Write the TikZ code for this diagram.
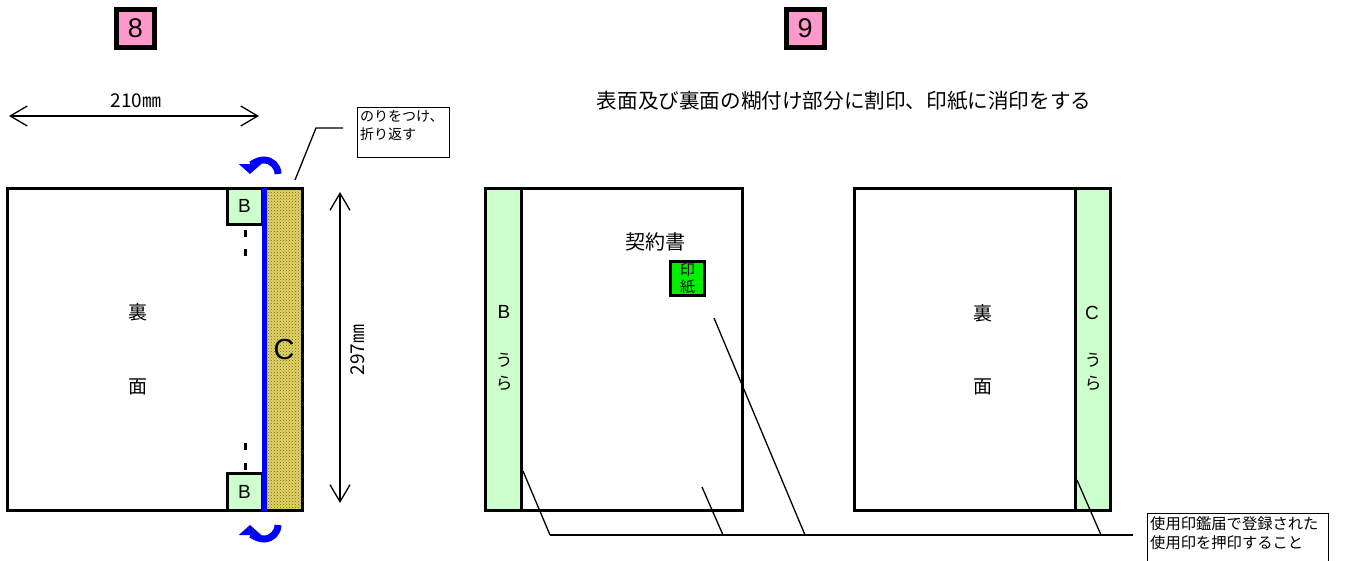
\documentclass[tikz,border=0pt]{standalone}
\usepackage{fontspec}
\setmainfont{Liberation Sans}
\newfontfamily\jp{Noto Sans CJK JP}
\usetikzlibrary{arrows.meta,patterns}
\definecolor{pinkbox}{RGB}{255,153,204}
\definecolor{lightgreen}{RGB}{204,255,204}
\definecolor{stampgreen}{RGB}{0,240,0}
\definecolor{glue}{RGB}{225,212,100}
\definecolor{gluedots}{RGB}{110,100,30}
\tikzset{
	numbox/.style={draw=black,line width=5,fill=pinkbox,minimum size=38,inner sep=0,font=\fontsize{27}{28}\selectfont},
	sheet/.style={draw=black,line width=3},
	tab/.style={draw=black,line width=3,fill=lightgreen},
	dim/.style={line width=1.3,{Straight Barb[length=17,width=20]}-{Straight Barb[length=17,width=20]}},
	leader/.style={line width=1.3},
	jtext/.style={font=\jp\fontsize{19}{22}\selectfont,inner sep=0},
	ltext/.style={font=\fontsize{19}{22}\selectfont,inner sep=0},
	uratext/.style={font=\jp\fontsize{17}{23}\selectfont,inner sep=0,align=center},
	fold/.style={blue,line width=7,-{Triangle[length=10,width=22]}}
}
\begin{document}
\begin{tikzpicture}[x=1pt,y=-1pt]
\useasboundingbox (0,0) rectangle (1350,560);
% step numbers
\node[numbox] (n8) at (135.5,28) {8};
\node[numbox] (n9) at (805,28) {9};
% left sheet, back side
\fill[glue] (265,188) rectangle (302,510);
\fill[pattern=crosshatch dots,pattern color=gluedots] (265,188) rectangle (302,510);
\draw[sheet] (7,188) rectangle (302,510);
\draw[tab] (227,188) rectangle (262,224);
\draw[tab] (227,473) rectangle (262,510);
\node[ltext] (b1) at (244.5,206) {B};
\node[ltext] (b2) at (244.5,492) {B};
\foreach \y in {230,249,443,463}
{
	\fill[black] (244,\y) rectangle (247,{\y+7});
}
\draw[blue,line width=5] (264.5,188) -- (264.5,511);
\node[font=\fontsize{29}{30}\selectfont,inner sep=0] (c1) at (284,350) {C};
\node[jtext] (ura1) at (138,312) {裏};
\node[jtext] (men1) at (138,387) {面};
\draw[fold] (278,174) arc[start angle=0,end angle=-180,radius=14];
\draw[fold] (278,525) arc[start angle=0,end angle=180,radius=14];
% dimensions
\coordinate (wl) at (9,116);
\coordinate (wr) at (259,116);
\draw[dim] (wl) -- (wr);
\node[font=\jp\fontsize{19}{20}\selectfont,inner sep=0] (w) at (136,101) {210㎜};
\coordinate (ht) at (340,192);
\coordinate (hb) at (340,503);
\draw[dim] (ht) -- (hb);
\node[font=\jp\fontsize{19}{20}\selectfont,inner sep=0,rotate=90] (h) at (358,350) {297㎜};
% glue note
\node[draw,line width=1.2,anchor=north west,minimum width=92,minimum height=50] (gb) at (357,107) {};
\node[font=\jp\fontsize{14}{18}\selectfont,anchor=north west,align=left,inner sep=0] (gt) at (360,110) {のりをつけ、\\折り返す};
\coordinate (g1) at (295,180);
\coordinate (g2) at (316,128);
\coordinate (g3) at (343,128);
\draw[leader] (g1) -- (g2) -- (g3);
% title
\node[font=\jp\fontsize{20.6}{22}\selectfont,inner sep=0] (title) at (844,101) {表面及び裏面の糊付け部分に割印、印紙に消印をする};
% front sheet
\draw[sheet] (485,188) rectangle (742,510);
\draw[tab] (485,188) rectangle (521,510);
\node[ltext] (b3) at (504,312) {B};
\node[uratext] (u3) at (504,372) {う\\ら};
\node[font=\jp\fontsize{20}{22}\selectfont,inner sep=0] (kei) at (655,242) {契約書};
\node[draw=black,line width=3,fill=stampgreen,minimum size=34,inner sep=0,align=center,font=\jp\fontsize{15}{17}\selectfont] (stamp) at (687.5,278.5) {印\\紙};
% back sheet
\draw[sheet] (854,188) rectangle (1110,510);
\draw[tab] (1075,188) rectangle (1110,510);
\node[ltext] (c3) at (1092,313) {C};
\node[uratext] (u4) at (1093,372) {う\\ら};
\node[jtext] (ura2) at (983,313) {裏};
\node[jtext] (men2) at (983,387) {面};
% seal note
\node[draw,line width=1.2,anchor=north west,minimum width=181,minimum height=60] (sb) at (1147,513) {};
\node[font=\jp\fontsize{15.3}{19}\selectfont,anchor=north west,align=left,inner sep=0] (st) at (1150,516) {使用印鑑届で登録された\\使用印を押印すること};
\coordinate (s0) at (550,535);
\coordinate (s1) at (1133,535);
\draw[leader] (s0) -- (s1);
\draw[leader] (523,471) -- (s0);
\draw[leader] (702,487) -- (723,535);
\draw[leader] (714,318) -- (805,535);
\draw[leader] (1077,480) -- (1101,535);
\end{tikzpicture}
\end{document}
